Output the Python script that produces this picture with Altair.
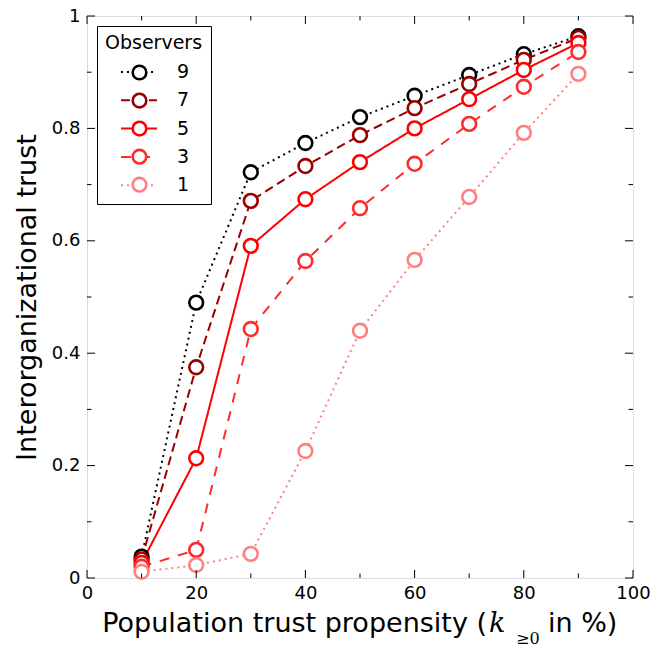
import altair as alt
import pandas as pd

# ---------------- data ----------------
propensity = [10, 20, 30, 40, 50, 60, 70, 80, 90]
obs9 = [0.038, 0.490, 0.722, 0.774, 0.820, 0.858, 0.895, 0.932, 0.964]
obs7 = [0.033, 0.375, 0.671, 0.733, 0.788, 0.836, 0.879, 0.922, 0.961]
obs5 = [0.027, 0.213, 0.591, 0.674, 0.740, 0.800, 0.852, 0.904, 0.952]
obs3 = [0.020, 0.050, 0.443, 0.564, 0.658, 0.737, 0.808, 0.874, 0.936]
obs1 = [0.011, 0.023, 0.043, 0.226, 0.440, 0.566, 0.678, 0.792, 0.897]

series_names = ["9", "7", "5", "3", "1"]
series_values = [obs9, obs7, obs5, obs3, obs1]
series_colors = ["#000000", "#990000", "#ff0000", "#ff2b2b", "#ff8080"]
series_dashes = [[2, 4], [9, 5], [1, 0], [10, 9], [2, 4]]

x_major = [0, 20, 40, 60, 80, 100]
x_minor = [10, 30, 50, 70, 90]
y_major = [0, 0.2, 0.4, 0.6, 0.8, 1.0]
y_minor = [0.1, 0.3, 0.5, 0.7, 0.9]

rows = []
for name, vals in zip(series_names, series_values):
    for k, v in zip(propensity, vals):
        rows.append({"k": k, "trust": v, "obs": name, "obs_p": name})
df = pd.DataFrame(rows)

W, H = 546, 562
FONT = "DejaVu Sans"

xs = alt.Scale(domain=[0, 100], nice=False, zero=False)
ys = alt.Scale(domain=[0, 1], nice=False, zero=False)

x_axis = alt.Axis(values=x_major, ticks=False, tickSize=0, domain=False, grid=False,
                  labelFont=FONT, labelFontSize=18, labelColor="black",
                  labelPadding=6, labelFlush=False, title=None)
y_axis = alt.Axis(values=y_major, ticks=False, tickSize=0, domain=False, grid=False,
                  labelFont=FONT, labelFontSize=18, labelColor="black",
                  labelPadding=7, labelFlush=False,
                  labelExpr="datum.value == 0 ? '0' : (datum.value == 1 ? '1' : format(datum.value, '.1f'))",
                  title="Interorganizational trust", titleFont=FONT, titleFontSize=27,
                  titleFontWeight="normal", titleColor="black",
                  titleX=-52, titleY=H / 2, titleBaseline="alphabetic", titleAngle=270)

# legend symbols: a 36 px handle line and a circle, both with the same layout box
LINE_PATH = "M-1.8,0L1.8,0"
CIRCLE_PATH = "M0.68,0A0.68,0.68,0,1,1,-0.68,0A0.68,0.68,0,1,1,0.68,0Z"

common = dict(orient="none", legendX=10, legendY=10, direction="vertical", padding=8,
              titleFont=FONT, titleFontSize=19, titleFontWeight="normal", titlePadding=8,
              labelFont=FONT, labelFontSize=19,
              symbolSize=400, symbolOffset=23, labelOffset=27)

line_legend = alt.Legend(title="Observers", strokeColor="black", titleColor="black",
                         labelColor="black", symbolType=LINE_PATH, symbolStrokeWidth=2,
                         rowPadding=7.3, **common)

# circles of the legend handles, overlaid on the same rows (no text of its own)
point_legend = alt.Legend(title=" ", titleColor="transparent", labelExpr="''",
                          labelColor="transparent", symbolType=CIRCLE_PATH,
                          symbolStrokeWidth=2.6, symbolFillColor="white",
                          rowPadding=3.05, **common)

base = alt.Chart(df)

lines = base.mark_line(strokeWidth=2).encode(
    x=alt.X("k:Q", scale=xs, axis=x_axis),
    y=alt.Y("trust:Q", scale=ys, axis=y_axis),
    color=alt.Color("obs:N", scale=alt.Scale(domain=series_names, range=series_colors),
                    legend=line_legend),
    strokeDash=alt.StrokeDash("obs:N", scale=alt.Scale(domain=series_names, range=series_dashes),
                              legend=line_legend),
)

points = base.mark_point(shape="circle", filled=True, fill="white", fillOpacity=1,
                         opacity=1, strokeWidth=2.6, size=190).encode(
    x=alt.X("k:Q", scale=xs),
    y=alt.Y("trust:Q", scale=ys),
    stroke=alt.Stroke("obs_p:N", sort=series_names,
                      scale=alt.Scale(range=series_colors), legend=point_legend),
)

# tick marks (inward, all four sides), positioned through the scales
xmaj = alt.Chart(pd.DataFrame({"v": x_major}))
xmin = alt.Chart(pd.DataFrame({"v": x_minor}))
ymaj = alt.Chart(pd.DataFrame({"v": y_major}))
ymin = alt.Chart(pd.DataFrame({"v": y_minor}))

def xticks(src, length):
    bot = src.mark_rule(color="black", strokeWidth=1).encode(
        x=alt.X("v:Q", scale=xs), y=alt.value(H), y2=alt.value(H - length))
    top = src.mark_rule(color="black", strokeWidth=1).encode(
        x=alt.X("v:Q", scale=xs), y=alt.value(0), y2=alt.value(length))
    return [bot, top]

def yticks(src, length):
    left = src.mark_rule(color="black", strokeWidth=1).encode(
        y=alt.Y("v:Q", scale=ys), x=alt.value(0), x2=alt.value(length))
    right = src.mark_rule(color="black", strokeWidth=1).encode(
        y=alt.Y("v:Q", scale=ys), x=alt.value(W - length), x2=alt.value(W))
    return [left, right]

tick_layers = xticks(xmaj, 8) + xticks(xmin, 4.5) + yticks(ymaj, 8) + yticks(ymin, 4.5)

# x-axis title with italic k and subscript
t1 = alt.Chart(pd.DataFrame({"s": ["Population trust propensity ("]})).mark_text(
    font=FONT, fontSize=27, align="right", baseline="alphabetic", color="black"
).encode(text="s:N", x=alt.value(400), y=alt.value(616))
t2 = alt.Chart(pd.DataFrame({"s": ["k"]})).mark_text(
    font="DejaVu Serif", fontStyle="italic", fontSize=27, align="left",
    baseline="alphabetic", color="black"
).encode(text="s:N", x=alt.value(402), y=alt.value(616))
t3 = alt.Chart(pd.DataFrame({"s": ["≥0"]})).mark_text(
    font="DejaVu Serif", fontSize=16, align="left", baseline="alphabetic", color="black"
).encode(text="s:N", x=alt.value(429), y=alt.value(628))
t4 = alt.Chart(pd.DataFrame({"s": ["in %)"]})).mark_text(
    font=FONT, fontSize=27, align="left", baseline="alphabetic", color="black"
).encode(text="s:N", x=alt.value(461), y=alt.value(616))

chart = alt.layer(lines, points, *tick_layers, t1, t2, t3, t4).properties(
    width=W, height=H,
    autosize=alt.AutoSizeParams(type="none"),
    padding={"left": 87, "top": 16, "right": 21, "bottom": 72},
    background="white",
).configure_view(stroke="black", strokeWidth=2).configure(font=FONT)

chart.save("out.html", embed_options={"renderer": "svg", "actions": False})
